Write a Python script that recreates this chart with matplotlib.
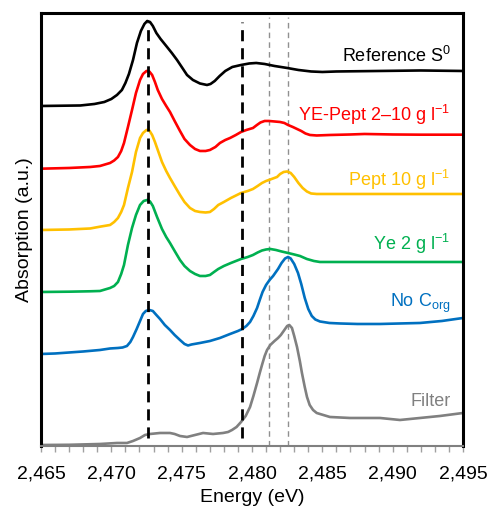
import matplotlib
matplotlib.use("Agg")
import matplotlib.pyplot as plt
from matplotlib.ticker import MultipleLocator, FuncFormatter

plt.rcParams['font.family'] = ['Liberation Sans', 'DejaVu Sans']
plt.rcParams['mathtext.fontset'] = 'custom'
plt.rcParams['mathtext.rm'] = 'Liberation Sans'
plt.rcParams['mathtext.it'] = 'Liberation Sans:italic'

# spectra (energy in eV, absorption in a.u., stacked offsets)
ref_e = [2465.0, 2467.8, 2468.8, 2469.5, 2470.0, 2470.4, 2470.75, 2471.0, 2471.25, 2471.54,
         2471.82, 2472.1, 2472.35, 2472.55, 2472.75, 2472.95, 2473.2, 2473.5, 2473.96, 2474.3,
         2474.67, 2475.05, 2475.38, 2475.8, 2476.3, 2476.8, 2477.05, 2477.35, 2477.7, 2478.1,
         2478.6, 2479.22, 2479.8, 2480.3, 2480.9, 2481.6, 2482.5, 2483.3, 2484.2, 2485.0,
         2486.0, 2489.0, 2492.0, 2495.0]
ref_a = [3.40, 3.405, 3.42, 3.44, 3.47, 3.51, 3.56, 3.63, 3.72, 3.86,
         4.03, 4.15, 4.22, 4.25, 4.24, 4.20, 4.13, 4.07, 3.99, 3.93,
         3.86, 3.78, 3.71, 3.66, 3.625, 3.61, 3.62, 3.65, 3.70, 3.75,
         3.79, 3.81, 3.825, 3.83, 3.82, 3.80, 3.78, 3.76, 3.745, 3.74,
         3.745, 3.75, 3.755, 3.75]

yep_e = [2465.0, 2467.0, 2468.5, 2469.19, 2469.91, 2470.2, 2470.47, 2470.7, 2470.9, 2471.18,
         2471.47, 2471.75, 2472.04, 2472.25, 2472.5, 2472.7, 2472.9, 2473.1, 2473.3, 2473.6,
         2473.9, 2474.17, 2474.5, 2474.88, 2475.2, 2475.59, 2475.95, 2476.3, 2476.7, 2477.01,
         2477.4, 2477.72, 2478.1, 2478.44, 2478.85, 2479.22, 2479.6, 2480.07, 2480.35, 2480.6,
         2480.9, 2481.21, 2481.6, 2481.99, 2482.3, 2482.56, 2482.9, 2483.2, 2483.5, 2483.8,
         2484.12, 2484.6, 2485.54, 2487.0, 2488.0, 2490.0, 2492.0, 2495.0]
yep_a = [2.773, 2.78, 2.79, 2.80, 2.83, 2.855, 2.89, 2.95, 3.03, 3.19,
         3.36, 3.53, 3.66, 3.72, 3.75, 3.745, 3.71, 3.64, 3.56, 3.47,
         3.40, 3.34, 3.25, 3.15, 3.07, 3.01, 2.97, 2.95, 2.95, 2.96,
         2.99, 3.03, 3.06, 3.08, 3.11, 3.14, 3.16, 3.18, 3.21, 3.235,
         3.25, 3.25, 3.245, 3.24, 3.23, 3.21, 3.19, 3.17, 3.15, 3.125,
         3.11, 3.105, 3.11, 3.115, 3.12, 3.115, 3.113, 3.113]

pept_e = [2465.0, 2467.0, 2468.5, 2469.19, 2469.91, 2470.2, 2470.47, 2470.7, 2470.9, 2471.18,
          2471.47, 2471.75, 2472.04, 2472.25, 2472.5, 2472.7, 2472.9, 2473.1, 2473.3, 2473.6,
          2473.9, 2474.17, 2474.5, 2474.88, 2475.2, 2475.59, 2475.95, 2476.3, 2476.7, 2477.01,
          2477.3, 2477.6, 2478.0, 2478.5, 2479.22, 2479.7, 2480.07, 2480.4, 2480.71, 2481.0,
          2481.3, 2481.78, 2482.0, 2482.25, 2482.5, 2482.75, 2483.0, 2483.3, 2483.6, 2483.9,
          2484.2, 2484.6, 2486.0, 2495.0]
pept_a = [2.16, 2.165, 2.175, 2.193, 2.21, 2.24, 2.28, 2.34, 2.41, 2.58,
          2.74, 2.94, 3.08, 3.13, 3.16, 3.155, 3.11, 3.04, 2.96, 2.84,
          2.75, 2.68, 2.60, 2.51, 2.44, 2.38, 2.35, 2.34, 2.335, 2.34,
          2.37, 2.41, 2.44, 2.48, 2.53, 2.55, 2.57, 2.60, 2.63, 2.65,
          2.665, 2.69, 2.72, 2.74, 2.745, 2.73, 2.69, 2.63, 2.58, 2.545,
          2.525, 2.52, 2.52, 2.52]

ye_e = [2465.0, 2467.0, 2468.5, 2469.19, 2469.91, 2470.2, 2470.47, 2470.7, 2470.9, 2471.18,
        2471.47, 2471.75, 2472.04, 2472.3, 2472.55, 2472.75, 2472.95, 2473.25, 2473.6, 2473.9,
        2474.17, 2474.5, 2474.88, 2475.2, 2475.59, 2475.95, 2476.3, 2476.7, 2477.01, 2477.3,
        2477.6, 2478.0, 2478.5, 2479.22, 2479.7, 2480.07, 2480.4, 2480.71, 2481.0, 2481.3,
        2481.7, 2482.1, 2482.56, 2483.0, 2483.41, 2483.9, 2484.4, 2484.83, 2487.0, 2495.0]
ye_a = [1.54, 1.543, 1.547, 1.55, 1.58, 1.60, 1.64, 1.72, 1.81, 2.01,
        2.18, 2.31, 2.41, 2.45, 2.46, 2.445, 2.40, 2.29, 2.17, 2.09,
        2.03, 1.95, 1.86, 1.80, 1.75, 1.72, 1.70, 1.70, 1.71, 1.74,
        1.77, 1.80, 1.83, 1.87, 1.89, 1.91, 1.935, 1.955, 1.965, 1.97,
        1.96, 1.945, 1.93, 1.915, 1.90, 1.87, 1.85, 1.84, 1.84, 1.84]

noc_e = [2465.0, 2466.0, 2467.0, 2468.0, 2469.19, 2469.91, 2470.47, 2470.8, 2471.11, 2471.35,
         2471.54, 2471.8, 2472.04, 2472.25, 2472.45, 2472.7, 2472.95, 2473.2, 2473.46, 2473.8,
         2474.17, 2474.5, 2474.88, 2475.2, 2475.45, 2475.7, 2476.3, 2477.01, 2477.72, 2478.44,
         2479.0, 2479.3, 2479.6, 2479.86, 2480.1, 2480.36, 2480.55, 2480.75, 2481.0, 2481.25,
         2481.5, 2481.85, 2482.1, 2482.35, 2482.56, 2482.75, 2483.0, 2483.27, 2483.5, 2483.75,
         2484.0, 2484.25, 2484.5, 2484.83, 2485.5, 2486.26, 2487.5, 2489.1, 2490.5, 2491.94,
         2493.5, 2495.0]
noc_a = [0.92, 0.925, 0.935, 0.945, 0.96, 0.975, 0.98, 0.985, 1.00, 1.04,
         1.09, 1.17, 1.25, 1.32, 1.35, 1.36, 1.35, 1.31, 1.27, 1.21,
         1.16, 1.11, 1.06, 1.02, 1.005, 1.015, 1.03, 1.05, 1.08, 1.12,
         1.15, 1.17, 1.20, 1.24, 1.30, 1.38, 1.46, 1.54, 1.61, 1.66,
         1.70, 1.77, 1.83, 1.875, 1.89, 1.875, 1.82, 1.73, 1.62, 1.48,
         1.37, 1.30, 1.265, 1.245, 1.23, 1.225, 1.22, 1.22, 1.225, 1.23,
         1.25, 1.28]

fil_e = [2465.0, 2467.0, 2469.19, 2470.4, 2471.11, 2471.54, 2472.04, 2472.39, 2472.75, 2473.46,
         2474.17, 2474.5, 2474.88, 2475.38, 2475.95, 2476.52, 2477.23, 2477.94, 2478.3, 2478.58,
         2478.9, 2479.22, 2479.55, 2479.86, 2480.1, 2480.36, 2480.55, 2480.71, 2480.9, 2481.07,
         2481.3, 2481.6, 2481.85, 2482.05, 2482.3, 2482.5, 2482.65, 2482.84, 2483.0, 2483.2,
         2483.4, 2483.55, 2483.75, 2483.91, 2484.1, 2484.34, 2484.6, 2484.83, 2485.54, 2486.97,
         2489.1, 2490.52, 2491.94, 2493.36, 2495.0]
fil_a = [0.01, 0.012, 0.02, 0.03, 0.03, 0.05, 0.08, 0.11, 0.12, 0.13,
         0.13, 0.12, 0.10, 0.09, 0.11, 0.13, 0.12, 0.13, 0.14, 0.16,
         0.19, 0.24, 0.30, 0.39, 0.50, 0.63, 0.73, 0.81, 0.90, 0.96,
         1.01, 1.05, 1.08, 1.11, 1.16, 1.20, 1.21, 1.18, 1.10, 0.99,
         0.85, 0.73, 0.59, 0.49, 0.41, 0.36, 0.33, 0.32, 0.29, 0.28,
         0.28, 0.26, 0.28, 0.30, 0.33]

series = [
    (ref_e, ref_a, '#000000', 'Reference S$^{0}$', 3.90),
    (yep_e, yep_a, '#FF0000', 'YE-Pept 2\u201310 g l$^{\\mathrm{-1}}$', 3.31),
    (pept_e, pept_a, '#FFC000', 'Pept 10 g l$^{\\mathrm{-1}}$', 2.66),
    (ye_e, ye_a, '#00B050', 'Ye 2 g l$^{\\mathrm{-1}}$', 2.02),
    (noc_e, noc_a, '#0070C0', 'No C$_{\\mathrm{org}}$', 1.43),
    (fil_e, fil_a, '#808080', 'Filter', 0.44),
]

black_lines = [2472.58, 2479.26]
gray_lines = [2481.2, 2482.58]

fig = plt.figure(figsize=(4.9, 5.09), dpi=100)
ax = fig.add_axes([0.0837, 0.1238, 0.8612, 0.8507])

for x in gray_lines:
    ax.plot([x, x], [0, 4.29], color='#909090', lw=1.0, dashes=(4, 3), zorder=1)
for x in black_lines:
    ax.plot([x, x], [0.08, 4.24], color='black', lw=2.0, dashes=(4, 2.5), zorder=3)

for e, a, c, lab, ly in series:
    ax.plot(e, a, color=c, lw=1.9, zorder=2, solid_joinstyle='round')
    ax.text(2494.1, ly, lab, color=c, fontsize=13, ha='right', va='center')

ax.set_xlim(2465, 2495)
ax.set_ylim(0, 4.33)
ax.set_yticks([])
ax.xaxis.set_major_locator(MultipleLocator(5))
ax.xaxis.set_minor_locator(MultipleLocator(1))
ax.xaxis.set_major_formatter(FuncFormatter(lambda v, p: '{:,.0f}'.format(v)))
ax.tick_params(axis='x', which='both', direction='out', length=4, width=1,
               color='#a0a0a0', labelsize=14, pad=10)

for s in ['left', 'top', 'right']:
    ax.spines[s].set_linewidth(2.2)
    ax.spines[s].set_color('black')
ax.spines['bottom'].set_linewidth(1.5)
ax.spines['bottom'].set_color('#808080')

ax.set_xlabel('Energy (eV)', fontsize=14, labelpad=5)
ax.set_ylabel('Absorption (a.u.)', fontsize=14, labelpad=6)

fig.savefig('out.png', dpi=100)
